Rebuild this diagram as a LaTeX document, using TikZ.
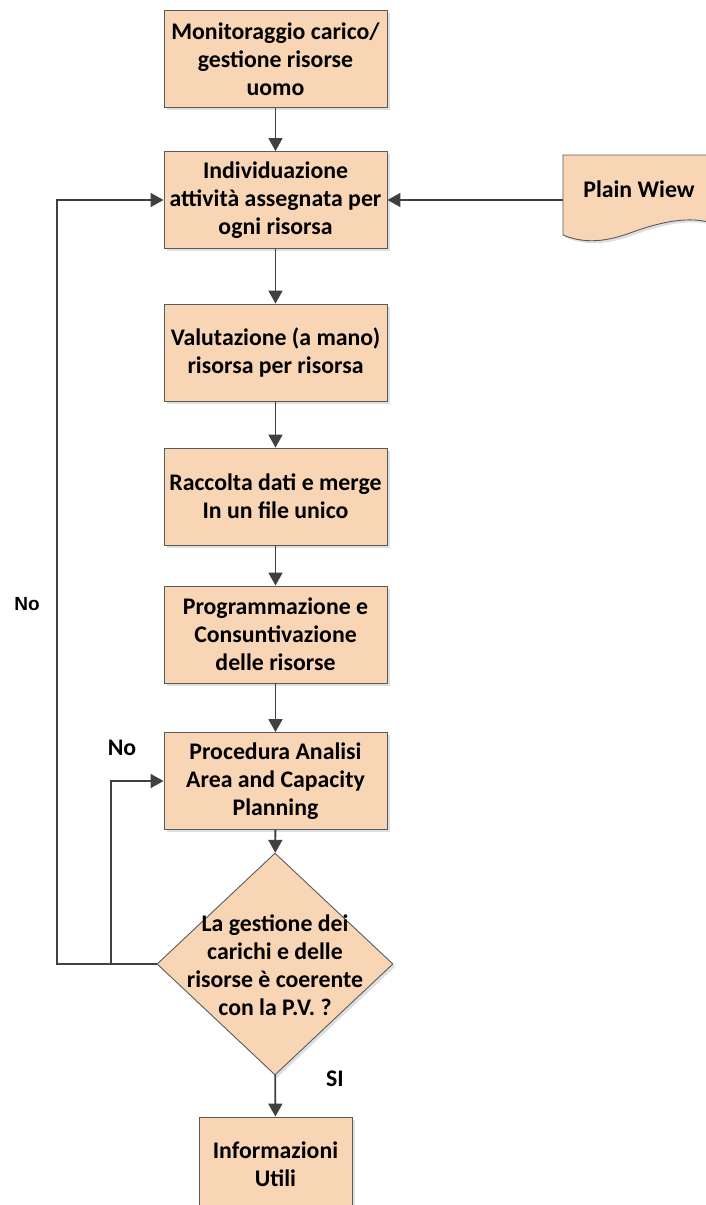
\documentclass[tikz,border=0pt]{standalone}
\usepackage{fontspec}
\setmainfont{Carlito}
\newfontfamily\arialfont{Liberation Sans}
\usetikzlibrary{arrows.meta,shapes.geometric,shadows}
\definecolor{peach}{RGB}{248,214,181}
\definecolor{edge}{RGB}{90,90,90}
\definecolor{line}{RGB}{64,64,64}
\begin{document}
\begin{tikzpicture}[x=1pt, y=-1pt,
        box/.style = {draw=edge, fill=peach, line width=0.9pt, minimum width=223pt, minimum height=97pt,
                      align=center, inner sep=0pt,
                      font=\fontsize{23.8}{28}\selectfont\bfseries,
                      drop shadow={opacity=0.25, shadow xshift=2.5pt, shadow yshift=-2.5pt}},
        decision/.style = {draw=edge, fill=peach, line width=0.9pt, shape=diamond, inner sep=0pt,
                           minimum width=236pt, minimum height=222pt,
                           drop shadow={opacity=0.25, shadow xshift=2.5pt, shadow yshift=-2.5pt}},
        txt/.style = {align=center, font=\fontsize{23.8}{28}\selectfont\bfseries},
        flow/.style = {draw=line, line width=1.8pt, -{Triangle[length=13pt, width=14pt]}}]
            \useasboundingbox (0, 0) rectangle (705, 1205);

            \node[box] (b1) at (275.5, 59) {Monitoraggio carico/\\gestione risorse\\uomo};
            \node[box] (b2) at (275.5, 200) {Individuazione\\attivit\`a assegnata per\\ogni risorsa};
            \node[box] (b3) at (275.5, 352.5) {Valutazione (a mano)\\risorsa per risorsa};
            \node[box] (b4) at (275.5, 496.5) {Raccolta dati e merge\\In un file unico};
            \node[box] (b5) at (275.5, 634.5) {Programmazione e\\Consuntivazione\\delle risorse};
            \node[box] (b6) at (275.5, 781) {Procedura Analisi\\Area and Capacity\\Planning};
            \node[decision] (dec) at (275, 964) {};
            \node[txt] (dectext) at (275, 965) {La gestione dei\\carichi e delle\\risorse \`e coerente\\con la P.V. ?};
            \node[box, minimum width=153pt, minimum height=94pt] (b7) at (275.5, 1164) {Informazioni\\Utili};

            % document shape
            \filldraw[draw=edge, fill=peach, line width=0.9pt,
                      drop shadow={opacity=0.25, shadow xshift=2.5pt, shadow yshift=-2.5pt}]
                (563, 155) -- (715, 155) -- (715, 224)
                .. controls (690, 215) and (660, 222) .. (630, 233)
                .. controls (600, 244) and (580, 242) .. (563, 235) -- cycle;
            \node[txt] (pv) at (639, 189) {Plain Wiew};
            \coordinate (pvw) at (563, 200);

            \coordinate (outer) at (57, 964);
            \coordinate (inner) at (111, 964);

            \draw[flow] (b1) -- (b2);
            \draw[flow] (b2) -- (b3);
            \draw[flow] (b3) -- (b4);
            \draw[flow] (b4) -- (b5);
            \draw[flow] (b5) -- (b6);
            \draw[flow] (b6) -- (dec);
            \draw[flow] (dec) -- (b7);
            \draw[flow] (pvw) -- (b2.east);
            \draw[flow] (dec.west) -- (outer) |- (b2.west);
            \draw[flow] (inner) |- (b6.west);

            \node[font=\arialfont\fontsize{19}{22}\selectfont\bfseries] (no1) at (27, 604) {No};
            \node[txt] (no2) at (122, 748) {No};
            \node[txt] (si) at (335, 1079) {SI};
        \end{tikzpicture}
\end{document}
